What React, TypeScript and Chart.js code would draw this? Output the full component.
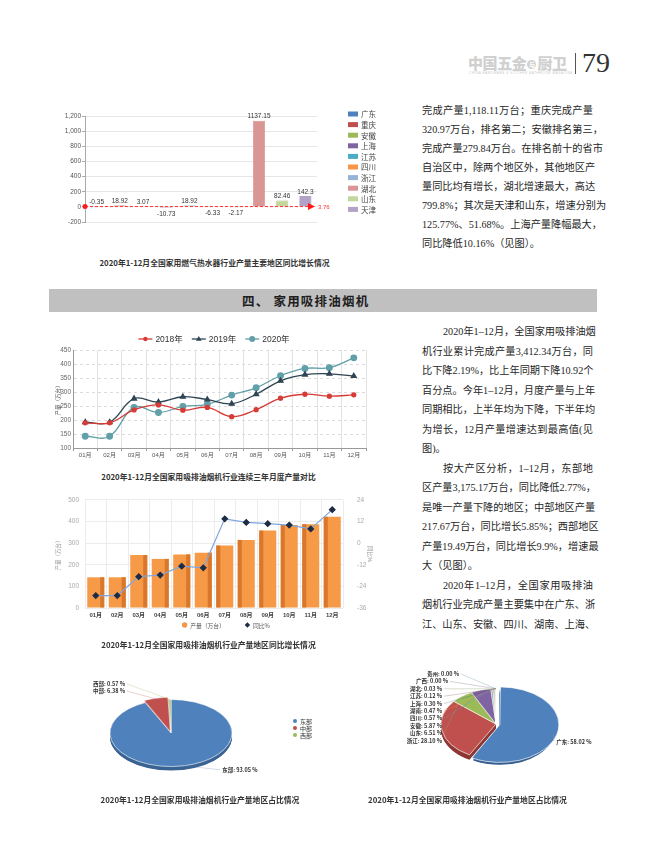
import React, { useEffect, useRef } from "react";
import { Chart, registerables } from "chart.js";

Chart.register(...registerables);

const CJK = '"Noto Sans CJK SC", sans-serif';
const SANS = '"Liberation Sans", "Noto Sans CJK SC", sans-serif';
const SERIF = '"Liberation Serif", "Noto Sans CJK SC", serif';
Chart.defaults.font.family = SANS;

// ---------- Chart 1: gas water heater growth by region ----------
const gasRegions = ["广东", "重庆", "安徽", "上海", "江苏", "四川", "浙江", "湖北", "山东", "天津"];
const gasGrowth = [-0.35, 18.92, 3.07, -10.73, 18.92, -6.33, -2.17, 1137.15, 82.46, 142.3];
const gasColors = ["#4f81bd", "#c0504d", "#9bbb59", "#8064a2", "#4bacc6", "#f79646", "#95b3d7", "#d99694", "#c3d69b", "#b3a2c7"];
const gasBorders = ["#3d6aa0", "#a03e3b", "#82a044", "#6a5089", "#3893ab", "#d97c30", "#7a99c0", "#c27a78", "#a9bd80", "#9986b0"];
const gasMarkValue = 3.76;
const gasAxisMin = -200;
const gasAxisMax = 1200;
const gasAxisStep = 200;

// ---------- Chart 2: monthly output three years ----------
const months = ["01月", "02月", "03月", "04月", "05月", "06月", "07月", "08月", "09月", "10月", "11月", "12月"];
const yearLabels = ["2018年", "2019年", "2020年"];
const prod2018 = [190, 190, 236, 254, 235, 245, 212, 237, 278, 292, 285, 290];
const prod2019 = [192, 192, 276, 264, 283, 273, 258, 292, 340, 362, 365, 357];
const prod2020 = [142, 142, 245, 227, 248, 256, 289, 315, 358, 384, 387, 422];
const yearColors = ["#d63c37", "#2f4554", "#61a0a8"];
const yearPoints = ["circle", "triangle", "circle"];

// ---------- Chart 3: 2020 output and YoY ----------
const output2020 = [142, 142, 245, 227, 248, 256, 289, 315, 358, 384, 387, 422];
const yoy2020 = [-29.1, -29.1, -18.6, -17.7, -12.8, -13.7, 13.5, 11.5, 10.8, 10.0, 7.9, 18.6];

// ---------- Pie 1: zones ----------
const zoneNames = ["东部", "中部", "西部"];
const zoneShares = [93.05, 6.38, 0.57];
const zoneColors = ["#4f81bd", "#c0504d", "#9bbb59"];
const zoneSides = ["#3b6493", "#913b38", "#738e40"];
const zoneLines = ["rgba(79,129,189,0.45)", "rgba(192,80,77,0.45)", "rgba(155,187,89,0.5)"];

// ---------- Pie 2: provinces ----------
const provNames = ["广东", "浙江", "山东", "安徽", "四川", "湖南", "上海", "江苏", "湖北", "广西", "贵州"];
const provShares = [58.02, 28.1, 6.51, 5.87, 0.57, 0.47, 0.3, 0.12, 0.03, 0.0, 0.0];
const provColors = ["#4f81bd", "#c0504d", "#9bbb59", "#8064a2", "#4bacc6", "#f79646", "#2c4d75", "#772c2a", "#5f7530", "#4d3b62", "#276a7c"];
const provSides = ["#38608f", "#8e3835", "#738e40", "#5e4a79", "#35879c", "#c4702e", "#1f3652", "#521e1c", "#435221", "#352945", "#1b4b57"];
const provLines = ["rgba(150,150,150,0.6)", "rgba(192,80,77,0.4)", "rgba(155,187,89,0.45)", "rgba(128,100,162,0.45)", "rgba(75,172,198,0.45)", "rgba(247,150,70,0.5)", "rgba(44,77,117,0.4)", "rgba(119,44,42,0.4)", "rgba(95,117,48,0.4)", "rgba(77,59,98,0.4)", "rgba(39,106,124,0.4)"];

// ---------- text ----------
const topText = [
  { t: "完成产量1,118.11万台；重庆完成产量" },
  { t: "320.97万台，排名第二；安徽排名第三，" },
  { t: "完成产量279.84万台。在排名前十的省市" },
  { t: "自治区中，除两个地区外，其他地区产" },
  { t: "量同比均有增长，湖北增速最大，高达" },
  { t: "799.8%；其次是天津和山东，增速分别为" },
  { t: "125.77%、51.68%。上海产量降幅最大，" },
  { t: "同比降低10.16%（见图）。", last: true },
];
const bottomText = [
  { t: "2020年1–12月，全国家用吸排油烟", indent: true },
  { t: "机行业累计完成产量3,412.34万台，同" },
  { t: "比下降2.19%，比上年同期下降10.92个" },
  { t: "百分点。今年1–12月，月度产量与上年" },
  { t: "同期相比，上半年均为下降，下半年均" },
  { t: "为增长，12月产量增速达到最高值(见" },
  { t: "图)。", last: true },
  { t: "按大产区分析，1–12月，东部地", indent: true },
  { t: "区产量3,175.17万台，同比降低2.77%，" },
  { t: "是唯一产量下降的地区；中部地区产量" },
  { t: "217.67万台，同比增长5.85%；西部地区" },
  { t: "产量19.49万台，同比增长9.9%，增速最" },
  { t: "大（见图）。", last: true },
  { t: "2020年1–12月，全国家用吸排油", indent: true },
  { t: "烟机行业完成产量主要集中在广东、浙" },
  { t: "江、山东、安徽、四川、湖南、上海、" },
];

// ---------- helpers ----------
function drawMarker(ctx: CanvasRenderingContext2D, style: string, x: number, y: number, r: number, color: string) {
  ctx.fillStyle = color;
  ctx.beginPath();
  if (style === "triangle") {
    ctx.moveTo(x, y - r);
    ctx.lineTo(x + r * 0.95, y + r * 0.6);
    ctx.lineTo(x - r * 0.95, y + r * 0.6);
    ctx.closePath();
  } else if (style === "rectRot") {
    ctx.moveTo(x, y - r);
    ctx.lineTo(x + r, y);
    ctx.lineTo(x, y + r);
    ctx.lineTo(x - r, y);
    ctx.closePath();
  } else {
    ctx.arc(x, y, r, 0, Math.PI * 2);
  }
  ctx.fill();
}

function buildGas(canvas: HTMLCanvasElement) {
  const labelsPlugin = {
    id: "gasLabels",
    afterDatasetsDraw(chart: any) {
      const ctx = chart.ctx;
      ctx.save();
      ctx.font = "6.5px " + SANS;
      ctx.fillStyle = "#333";
      ctx.textAlign = "center";
      chart.data.datasets.forEach((ds: any, i: number) => {
        const el: any = chart.getDatasetMeta(i).data[0];
        const v = ds.data[0] as number;
        const y = v < -1 ? Math.max(el.y, el.base) + 8 : Math.min(el.y, el.base) - 2.5;
        ctx.fillText(String(v), el.x, y);
      });
      // mark line
      const { left, right } = chart.chartArea;
      const my = chart.scales.y.getPixelForValue(gasMarkValue);
      ctx.strokeStyle = "#ff3030";
      ctx.lineWidth = 1;
      ctx.setLineDash([3, 2]);
      ctx.beginPath();
      ctx.moveTo(left, my);
      ctx.lineTo(right - 6, my);
      ctx.stroke();
      ctx.setLineDash([]);
      ctx.fillStyle = "#ff1a1a";
      ctx.beginPath();
      ctx.arc(left, my, 2.5, 0, Math.PI * 2);
      ctx.fill();
      ctx.beginPath();
      ctx.moveTo(right - 2, my);
      ctx.lineTo(right - 9, my - 3.5);
      ctx.lineTo(right - 9, my + 3.5);
      ctx.closePath();
      ctx.fill();
      ctx.font = "6px " + SANS;
      ctx.fillStyle = "#ff3030";
      ctx.textAlign = "left";
      ctx.textBaseline = "middle";
      ctx.fillText(String(gasMarkValue), right + 1, my + 1);
      ctx.restore();
    },
  };
  const legendPlugin = {
    id: "gasLegend",
    afterDraw(chart: any) {
      const ctx = chart.ctx;
      const x0 = chart.chartArea.right + 31;
      const y0 = chart.chartArea.top - 2;
      ctx.save();
      ctx.font = "7.5px " + CJK;
      ctx.textBaseline = "middle";
      ctx.textAlign = "left";
      chart.data.datasets.forEach((ds: any, i: number) => {
        const y = y0 + i * 10.6;
        ctx.fillStyle = ds.backgroundColor;
        ctx.fillRect(x0, y - 2.5, 10, 5);
        ctx.fillStyle = "#444";
        ctx.fillText(ds.label, x0 + 13, y + 0.5);
      });
      ctx.restore();
    },
  };
  return new Chart(canvas, {
    type: "bar",
    data: {
      labels: [""],
      datasets: gasRegions.map((r, i) => ({
        label: r,
        data: [gasGrowth[i]],
        backgroundColor: gasColors[i],
        borderColor: gasBorders[i],
        borderWidth: 0.6,
        categoryPercentage: 1,
        barPercentage: 0.52,
      })),
    },
    options: {
      animation: false,
      responsive: false,
      events: [],
      layout: { padding: { top: 8, right: 83, bottom: 11, left: 0 } },
      plugins: { legend: { display: false }, tooltip: { enabled: false } },
      scales: {
        x: { display: false },
        y: {
          min: gasAxisMin,
          max: gasAxisMax,
          ticks: {
            stepSize: gasAxisStep,
            font: { size: 6.5 },
            color: "#555",
            padding: 1,
            callback: (v: any) => Number(v).toLocaleString("en-US"),
          },
          grid: { color: "#e6e6e6", tickLength: 3, tickColor: "#aaa" },
          border: { color: "#aaa" },
          afterFit: (s: any) => {
            s.width = 30;
          },
        },
      },
    } as any,
    plugins: [labelsPlugin, legendPlugin],
  });
}

function buildLines(canvas: HTMLCanvasElement) {
  const series = [prod2018, prod2019, prod2020];
  const legendPlugin = {
    id: "lineLegend",
    afterDraw(chart: any) {
      const ctx = chart.ctx;
      ctx.save();
      ctx.font = "8.5px " + SANS;
      const items = chart.data.datasets.map((ds: any) => ({ ds, w: 17 + ctx.measureText(ds.label).width }));
      const gap = 9;
      const total = items.reduce((a: number, b: any) => a + b.w, 0) + gap * (items.length - 1);
      let x = chart.width / 2 - total / 2;
      const y = chart.chartArea.top - 11;
      ctx.textBaseline = "middle";
      ctx.textAlign = "left";
      items.forEach((it: any, i: number) => {
        ctx.strokeStyle = it.ds.borderColor;
        ctx.lineWidth = 1.3;
        ctx.beginPath();
        ctx.moveTo(x, y);
        ctx.lineTo(x + 14, y);
        ctx.stroke();
        drawMarker(ctx, yearPoints[i], x + 7, y, i === 0 ? 2.2 : 3, it.ds.borderColor);
        ctx.fillStyle = "#333";
        ctx.fillText(it.ds.label, x + 17, y + 0.5);
        x += it.w + gap;
      });
      ctx.restore();
    },
  };
  return new Chart(canvas, {
    type: "line",
    data: {
      labels: months,
      datasets: yearLabels.map((y, i) => ({
        label: y,
        data: series[i],
        borderColor: yearColors[i],
        backgroundColor: yearColors[i],
        pointBackgroundColor: yearColors[i],
        pointBorderColor: yearColors[i],
        pointStyle: yearPoints[i],
        pointRadius: i === 0 ? 2 : 2.8,
        borderWidth: 1.3,
        tension: 0.4,
        fill: false,
      })),
    },
    options: {
      animation: false,
      responsive: false,
      events: [],
      layout: { padding: { top: 22, right: 7, bottom: 8, left: 0 } },
      plugins: { legend: { display: false }, tooltip: { enabled: false } },
      scales: {
        x: {
          offset: true,
          grid: { offset: true, color: "#e2e2e2", tickLength: 3, tickColor: "#999" },
          border: { color: "#999" },
          ticks: { font: { size: 6 }, color: "#555", padding: 1, maxRotation: 0 },
          afterFit: (s: any) => {
            s.height = 12;
          },
        },
        y: {
          min: 100,
          max: 450,
          ticks: { stepSize: 50, font: { size: 6.5 }, color: "#666", padding: 2 },
          grid: { color: "#dcdcdc", drawTicks: false },
          border: { color: "#999", dash: [3, 3] },
          title: { display: true, text: "产量（万台）", font: { size: 5.5 }, color: "#555", padding: 0 },
          afterFit: (s: any) => {
            s.width = 18;
          },
        },
      },
    } as any,
    plugins: [legendPlugin],
  });
}

function buildBarLine(canvas: HTMLCanvasElement) {
  const sidePlugin = {
    id: "barSide",
    afterDatasetDraw(chart: any, args: any) {
      if (args.index !== 0) return;
      const ctx = chart.ctx;
      ctx.save();
      ctx.fillStyle = "#d9782c";
      chart.getDatasetMeta(0).data.forEach((el: any, i: number) => {
        const w = el.width;
        const sw = w * 0.24;
        const x = i < 6 ? el.x + w / 2 - sw : el.x - w / 2;
        ctx.fillRect(x, el.y, sw, el.base - el.y);
      });
      ctx.restore();
    },
  };
  const legendPlugin = {
    id: "barLegend",
    afterDraw(chart: any) {
      const ctx = chart.ctx;
      ctx.save();
      ctx.font = "5.8px " + CJK;
      const styles = ["circle", "rectRot"];
      const colors = ["#f79646", "#1d2b45"];
      const items = chart.data.datasets.map((ds: any) => ({ ds, w: 8 + ctx.measureText(ds.label).width }));
      const gap = 20;
      const total = items.reduce((a: number, b: any) => a + b.w, 0) + gap;
      let x = (chart.chartArea.left + chart.chartArea.right) / 2 - total / 2 + 12;
      const y = chart.chartArea.bottom + 17;
      ctx.textBaseline = "middle";
      items.forEach((it: any, i: number) => {
        drawMarker(ctx, styles[i], x + 2.5, y, 2.7, colors[i]);
        ctx.fillStyle = "#555";
        ctx.fillText(it.ds.label, x + 8, y + 0.5);
        x += it.w + gap;
      });
      ctx.restore();
    },
  };
  return new Chart(canvas, {
    type: "bar",
    data: {
      labels: months,
      datasets: [
        {
          type: "bar",
          label: "产量（万台）",
          data: output2020,
          backgroundColor: "#f79a47",
          yAxisID: "y",
          order: 1,
          categoryPercentage: 0.9,
          barPercentage: 0.88,
        },
        {
          type: "line",
          label: "同比%",
          data: yoy2020,
          borderColor: "#7ea6de",
          backgroundColor: "#1d2b45",
          pointBackgroundColor: "#1d2b45",
          pointBorderColor: "#1d2b45",
          pointStyle: "rectRot",
          pointRadius: 2.8,
          borderWidth: 1.2,
          tension: 0,
          yAxisID: "y1",
          order: 0,
        },
      ],
    },
    options: {
      animation: false,
      responsive: false,
      events: [],
      layout: { padding: { top: 7, right: 0, bottom: 20, left: 0 } },
      plugins: { legend: { display: false }, tooltip: { enabled: false } },
      scales: {
        x: {
          grid: { offset: true, color: "#ececec", drawTicks: false },
          border: { display: false },
          ticks: { font: { size: 6, weight: "bold" }, color: "#444", padding: 4, maxRotation: 0 },
          afterFit: (s: any) => {
            s.height = 12;
          },
        },
        y: {
          position: "left",
          min: 0,
          max: 500,
          ticks: { stepSize: 100, font: { size: 6.5 }, color: "#aaa", padding: 6 },
          grid: { color: "#ececec", drawTicks: false },
          border: { display: false },
          title: { display: true, text: "产量（万台）", font: { size: 5.5 }, color: "#999", padding: 0 },
          afterFit: (s: any) => {
            s.width = 30;
          },
        },
        y1: {
          position: "right",
          min: -36,
          max: 24,
          ticks: { stepSize: 12, font: { size: 6.5 }, color: "#aaa", padding: 6 },
          grid: { display: false },
          border: { display: false },
          title: { display: true, text: "同比%", font: { size: 5.5 }, color: "#999", padding: 0 },
          afterFit: (s: any) => {
            s.width = 30;
          },
        },
      },
    } as any,
    plugins: [sidePlugin, legendPlugin],
  });
}

function ellipsePlugin(k: number, depth: number, sides: string[]) {
  return {
    id: "ellipsePie",
    beforeDatasetsDraw(chart: any) {
      const meta = chart.getDatasetMeta(0);
      const els = meta.data as any[];
      const cx = els[0].x;
      const cy = els[0].y;
      const ctx = chart.ctx;
      ctx.save();
      ctx.translate(cx, cy);
      ctx.scale(1, k);
      ctx.translate(-cx, -cy);
      for (let d = depth; d >= 0.5; d -= 0.5) {
        els.forEach((el: any, i: number) => {
          if (el.endAngle - el.startAngle <= 0) return;
          const off = (el.options.offset || 0) / 4;
          const h = (el.startAngle + el.endAngle) / 2;
          const ox = el.x + Math.cos(h) * off;
          const oy = el.y + Math.sin(h) * off + d / k;
          ctx.beginPath();
          ctx.moveTo(ox, oy);
          ctx.arc(ox, oy, el.outerRadius, el.startAngle, el.endAngle);
          ctx.closePath();
          ctx.fillStyle = sides[i];
          ctx.fill();
        });
      }
    },
    afterDatasetsDraw(chart: any) {
      chart.ctx.restore();
    },
  };
}

function pieLabelPlugin(cfg: {
  names: string[];
  values: number[];
  k: number;
  lineColors: string[];
  leftRight: number;
  leftTop: number;
  leftStep: number;
  leftShift: number[];
  rightDx: number;
  rightDy: number;
  legend?: { dx: number; dy: number; step: number; colors: string[] };
}) {
  return {
    id: "pieLabels",
    afterDraw(chart: any) {
      const els = chart.getDatasetMeta(0).data as any[];
      const ctx = chart.ctx;
      const cx = els[0].x;
      const cy = els[0].y;
      const items = els.map((el: any, i: number) => {
        const h = (el.startAngle + el.endAngle) / 2;
        const off = (el.options.offset || 0) / 4;
        const r = el.outerRadius + off;
        return { i, h, px: cx + Math.cos(h) * r, py: cy + Math.sin(h) * r * cfg.k, left: Math.cos(h) < 0.01 };
      });
      const text = (i: number) => cfg.names[i] + ": " + cfg.values[i].toFixed(2) + " %";
      ctx.save();
      ctx.font = "bold 5.5px " + CJK;
      ctx.textBaseline = "middle";
      ctx.lineWidth = 0.6;
      const lefts = items.filter((it) => it.left).sort((a, b) => b.h - a.h || b.i - a.i);
      lefts.forEach((it, j) => {
        const tx = cx + cfg.leftRight + (cfg.leftShift[j] || 0);
        const ty = cy + cfg.leftTop + j * cfg.leftStep;
        ctx.strokeStyle = cfg.lineColors[it.i];
        ctx.beginPath();
        ctx.moveTo(tx + 2, ty);
        ctx.lineTo(it.px, it.py);
        ctx.stroke();
        ctx.fillStyle = "#333";
        ctx.textAlign = "right";
        ctx.fillText(text(it.i), tx, ty);
      });
      items
        .filter((it) => !it.left)
        .forEach((it) => {
          const tx = it.px + cfg.rightDx;
          const ty = it.py + cfg.rightDy;
          ctx.strokeStyle = cfg.lineColors[it.i];
          ctx.beginPath();
          ctx.moveTo(it.px, it.py);
          ctx.lineTo(tx - 2, ty);
          ctx.stroke();
          ctx.fillStyle = "#333";
          ctx.textAlign = "left";
          ctx.fillText(text(it.i), tx, ty);
        });
      if (cfg.legend) {
        const lg = cfg.legend;
        ctx.font = "6px " + CJK;
        ctx.textAlign = "left";
        cfg.names.forEach((n, i) => {
          const x = cx + lg.dx;
          const y = cy + lg.dy + i * lg.step;
          ctx.fillStyle = lg.colors[i];
          ctx.beginPath();
          ctx.arc(x, y, 2, 0, Math.PI * 2);
          ctx.fill();
          ctx.fillStyle = "#333";
          ctx.fillText(n, x + 5, y + 0.5);
        });
      }
      ctx.restore();
    },
  };
}

function buildZonePie(canvas: HTMLCanvasElement) {
  const k = 0.55;
  return new Chart(canvas, {
    type: "pie",
    data: {
      labels: zoneNames,
      datasets: [
        {
          data: zoneShares,
          backgroundColor: zoneColors,
          borderColor: "#ffffff",
          borderWidth: 0.8,
          offset: [0, 10, 0],
        },
      ],
    },
    options: {
      animation: false,
      responsive: false,
      events: [],
      radius: 61,
      layout: { padding: { right: 38 } },
      plugins: { legend: { display: false }, tooltip: { enabled: false } },
    } as any,
    plugins: [
      ellipsePlugin(k, 4, zoneSides),
      pieLabelPlugin({
        names: zoneNames,
        values: zoneShares,
        k,
        lineColors: zoneLines,
        leftRight: -46,
        leftTop: -49,
        leftStep: 7,
        leftShift: [],
        rightDx: 38,
        rightDy: 4,
        legend: { dx: 124, dy: -12, step: 7, colors: zoneColors },
      }),
    ],
  });
}

function buildProvPie(canvas: HTMLCanvasElement) {
  const k = 0.64;
  return new Chart(canvas, {
    type: "pie",
    data: {
      labels: provNames,
      datasets: [
        {
          data: provShares,
          backgroundColor: provColors,
          borderColor: "#ffffff",
          borderWidth: 0.8,
          offset: [16, 0, 0, 0, 0, 0, 0, 0, 0, 0, 0],
        },
      ],
    },
    options: {
      animation: false,
      responsive: false,
      events: [],
      radius: 55,
      layout: { padding: { left: 12, bottom: 7 } },
      plugins: { legend: { display: false }, tooltip: { enabled: false } },
    } as any,
    plugins: [
      ellipsePlugin(k, 5, provSides),
      pieLabelPlugin({
        names: provNames,
        values: provShares,
        k,
        lineColors: provLines,
        leftRight: -54,
        leftTop: -50,
        leftStep: 7.4,
        leftShift: [17, 6],
        rightDx: 3,
        rightDy: 8,
      }),
    ],
  });
}

function ChartBox(props: { left: number; top: number; width: number; height: number; build: (c: HTMLCanvasElement) => Chart }) {
  const ref = useRef<HTMLCanvasElement>(null);
  useEffect(() => {
    const chart = props.build(ref.current as HTMLCanvasElement);
    return () => chart.destroy();
  }, []);
  return (
    <canvas
      ref={ref}
      width={props.width}
      height={props.height}
      style={{ position: "absolute", left: props.left, top: props.top, width: props.width, height: props.height }}
    />
  );
}

function Para(props: { lines: { t: string; last?: boolean; indent?: boolean }[]; left: number; top: number; width: number; lh: number }) {
  return (
    <div
      style={{
        position: "absolute",
        left: props.left,
        top: props.top,
        width: props.width,
        fontFamily: SERIF,
        fontSize: 10.2,
        lineHeight: props.lh + "px",
        color: "#262626",
      }}
    >
      {props.lines.map((l, i) => (
        <div
          key={i}
          style={{
            whiteSpace: "nowrap",
            textAlign: l.last ? "left" : "justify",
            textAlignLast: l.last ? "left" : "justify",
            paddingLeft: l.indent ? 21 : 0,
          }}
        >
          {l.t}
        </div>
      ))}
    </div>
  );
}

function Caption(props: { text: string; center: number; top: number }) {
  return (
    <div
      style={{
        position: "absolute",
        left: props.center - 150,
        width: 300,
        top: props.top,
        textAlign: "center",
        fontFamily: CJK,
        fontWeight: 700,
        fontSize: 7.8,
        lineHeight: "10px",
        color: "#333",
      }}
    >
      {props.text}
    </div>
  );
}

export default function App() {
  return (
    <div style={{ position: "relative", width: 650, height: 850, background: "#ffffff", overflow: "hidden" }}>
      <style>{"html,body{margin:0;padding:0;background:#fff;}"}</style>

      {/* header */}
      <div
        style={{
          position: "absolute",
          left: 468,
          top: 54,
          fontFamily: CJK,
          fontWeight: 900,
          fontSize: 15,
          lineHeight: "17px",
          color: "#d0d0d0",
          letterSpacing: -0.4,
          whiteSpace: "nowrap",
        }}
      >
        中国五金
        <span
          style={{
            display: "inline-block",
            width: 9,
            height: 9,
            borderRadius: "50%",
            background: "#d0d0d0",
            color: "#fff",
            fontSize: 6,
            lineHeight: "9px",
            textAlign: "center",
            verticalAlign: "middle",
            margin: "0 1px",
            letterSpacing: 0,
          }}
        >
          与
        </span>
        厨卫
      </div>
      <div
        style={{
          position: "absolute",
          left: 469,
          top: 71,
          fontFamily: SANS,
          fontSize: 3,
          lineHeight: "4px",
          color: "#c8c8c8",
          letterSpacing: 0.6,
          whiteSpace: "nowrap",
        }}
      >
        CHINA HARDWARE &amp; KITCHEN BATHROOM MAGAZINE
      </div>
      <div style={{ position: "absolute", left: 575, top: 53, width: 1, height: 21, background: "#555" }} />
      <div style={{ position: "absolute", left: 582, top: 49, fontFamily: SERIF, fontSize: 28, lineHeight: "28px", color: "#333" }}>79</div>

      {/* chart 1 */}
      <ChartBox left={55} top={108} width={345} height={125} build={buildGas} />
      <Caption text="2020年1-12月全国家用燃气热水器行业产量主要地区同比增长情况" center={214.5} top={258} />

      {/* top text */}
      <Para lines={topText} left={422} top={100.5} width={171} lh={19} />

      {/* section bar */}
      <div style={{ position: "absolute", left: 49, top: 289, width: 548, height: 23, background: "#c0c0c0" }} />
      <div
        style={{
          position: "absolute",
          left: 242,
          top: 289,
          lineHeight: "23px",
          fontFamily: CJK,
          fontWeight: 700,
          fontSize: 12.5,
          letterSpacing: 1.2,
          color: "#1e1e1e",
          whiteSpace: "pre",
        }}
      >
        {"四、 家用吸排油烟机"}
      </div>

      {/* chart 2 */}
      <ChartBox left={55} top={328} width={318} height={140} build={buildLines} />
      <Caption text="2020年1-12月全国家用吸排油烟机行业连续三年月度产量对比" center={208.5} top={472} />

      {/* chart 3 */}
      <ChartBox left={55} top={490} width={318} height={150} build={buildBarLine} />
      <Caption text="2020年1-12月全国家用吸排油烟机行业产量地区同比增长情况" center={208.5} top={640} />

      {/* bottom text */}
      <Para lines={bottomText} left={422} top={322} width={171} lh={19.53} />

      {/* pies */}
      <ChartBox left={40} top={663} width={300} height={140} build={buildZonePie} />
      <Caption text="2020年1-12月全国家用吸排油烟机行业产量地区占比情况" center={200} top={795} />
      <ChartBox left={360} top={660} width={260} height={135} build={buildProvPie} />
      <Caption text="2020年1-12月全国家用吸排油烟机行业产量地区占比情况" center={467.5} top={795} />
    </div>
  );
}
